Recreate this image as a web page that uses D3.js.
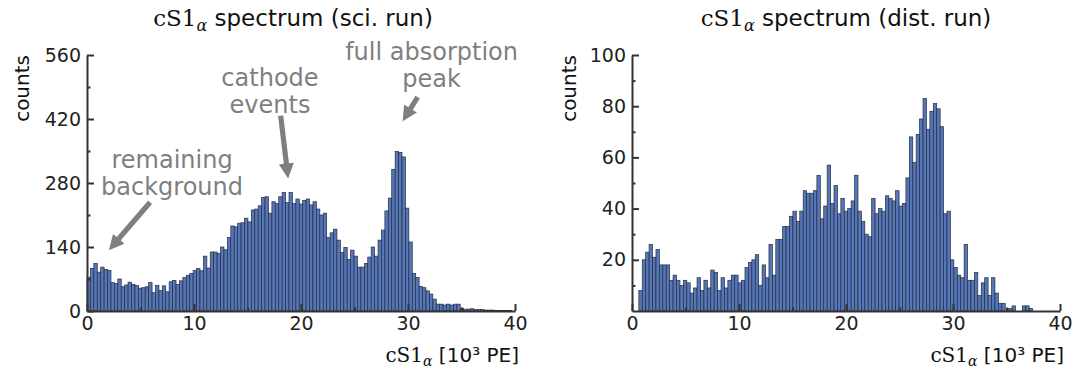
<!DOCTYPE html>
<html><head><meta charset="utf-8">
<script src="https://cdn.jsdelivr.net/npm/d3@7"></script>
<style>
html,body{margin:0;padding:0;background:#fff;}
svg{display:block;}
text{font-family:"DejaVu Sans",sans-serif;}
</style></head>
<body>
<svg id="c" width="1084" height="369"></svg>
<script>
// ---- data ----
const binWidth = 0.32;           // 10^3 PE
const sciStartBin = 0;
const sciCounts = [
 74, 93,104, 85, 96, 91, 89, 62, 60, 70,
 53, 57, 63, 58, 56, 50, 51, 53, 62, 40,
 56, 45, 55, 42, 64, 67, 58, 66, 73, 78,
 82, 89, 93, 88,120, 94,129,129,126,140,
134,161,186,184,192,193,203,195,221,223,
230,248,250,214,239,235,250,259,237,259,
235,245,234,242,245,232,239,223,210,214,
161,171,179,155,128,139,113,133,120, 96,
 96,104,118,140,120,155,177,219,247,310,
349,347,337,225,151, 82, 73, 54, 51, 44,
 37, 26, 15, 15, 13, 15, 13, 15, 15,  6,
  4,  4,  5,  3,  3,  3,  2,  2,  2,  1,
  1,  1,  1,  1,  0];
const distStartBin = 2;
const distCounts = [
  8, 20, 23, 26, 21, 24, 18, 18, 18, 12,
 14, 12, 10, 12, 11,  7,  9, 13,  8, 12,
  9, 16, 15,  8, 13,  9, 12, 14, 14, 11,
 12, 17, 19, 20, 22, 10, 18, 13, 26, 14,
 28, 28, 33, 33, 37, 39, 35, 39, 47, 46,
 46, 47, 53, 36, 41, 57, 42, 49, 38, 44,
 39, 40, 43, 53, 39, 35, 30, 29, 44, 38,
 40, 39, 45, 44, 43, 47, 41, 42, 52, 68,
 58, 69, 75, 83, 71, 78, 81, 79, 72, 38,
 39, 20, 17, 14, 13, 26, 12, 12, 15,  6,
 11, 13,  6, 13,  7,  3,  3,  0,  1,  2,
  0,  0,  2,  2,  1];
const xTicks = [0, 10, 20, 30, 40];
const xMinorTicks = [5, 15, 25, 35];
const sciYTicks = [0, 140, 280, 420, 560];
const sciYMinor = [70, 210, 350, 490];
const distYTicks = [20, 40, 60, 80, 100];
const distYMinor = [10, 30, 50, 70, 90];
const titles = ["spectrum (sci. run)", "spectrum (dist. run)"];
// annotations for sci. run: text lines at (x, y) in data units, arrows tail->tip
const annoText = [
  {lines:["remaining","background"], x:7.95, y:313},
  {lines:["cathode","events"], x:17.1, y:492},
  {lines:["full absorption","peak"], x:32.2, y:549}
];
const annoArrows = [
  {x0:5.9, y0:238, x1:2.05, y1:133},
  {x0:18.1, y0:427, x1:18.8, y1:290},
  {x0:30.9, y0:468, x1:29.5, y1:415}
];

// ---- drawing ----
const svg = d3.select("#c");
const axisCol = "#333333";
const barFill = "#5577b9";
const barEdge = "#262b3c";
const gray = "#7f7f7f";

function panel(cfg){
  const x = d3.scaleLinear().domain([0,40]).range(cfg.xr);
  const y = d3.scaleLinear().domain(cfg.yd).range([311,55]);
  const g = svg.append("g");
  // bars
  g.append("g").selectAll("rect").data(cfg.counts).join("rect")
    .attr("x", (d,i)=>x((cfg.start+i)*binWidth))
    .attr("width", (d,i)=>x((cfg.start+i+1)*binWidth)-x((cfg.start+i)*binWidth))
    .attr("y", d=>y(d))
    .attr("height", d=>y(0)-y(d))
    .attr("fill", barFill)
    .attr("stroke", barEdge)
    .attr("stroke-width", 0.7);
  // axes
  g.append("g").attr("transform",`translate(0,${y(0)})`)
    .call(d3.axisBottom(x).tickValues(xTicks).tickSizeInner(-7).tickSizeOuter(0).tickPadding(6).tickFormat(d3.format("d")));
  g.append("g").attr("transform",`translate(0,${y(0)})`)
    .call(d3.axisBottom(x).tickValues(xMinorTicks).tickSizeInner(-3.5).tickSizeOuter(0).tickFormat(""))
    .select(".domain").remove();
  g.append("g").attr("transform",`translate(${x(0)},0)`)
    .call(d3.axisLeft(y).tickValues(cfg.yt).tickSizeInner(-7).tickSizeOuter(0).tickPadding(6).tickFormat(d3.format("d")));
  g.append("g").attr("transform",`translate(${x(0)},0)`)
    .call(d3.axisLeft(y).tickValues(cfg.ym).tickSizeInner(-3.5).tickSizeOuter(0).tickFormat(""))
    .select(".domain").remove();
  g.selectAll(".domain").attr("stroke", axisCol).attr("stroke-width", 2);
  g.selectAll(".tick line").attr("stroke", axisCol).attr("stroke-width", 2);
  g.selectAll(".tick text").attr("font-family","DejaVu Sans").attr("font-size", 19).attr("fill","#222");
  // ylabel
  g.append("text").attr("transform",`translate(${x(0)-cfg.ylabOff},${y(cfg.yd[1])}) rotate(-90)`)
    .attr("text-anchor","end").attr("font-size",20).attr("fill","#111").text("counts");
  // xlabel
  const xl = g.append("text").attr("x", x(40)+4).attr("y", 362).attr("text-anchor","end")
    .attr("font-size",20).attr("fill","#111");
  xl.append("tspan").attr("font-family","DejaVu Serif").text("cS1");
  xl.append("tspan").attr("font-family","DejaVu Serif").attr("font-style","italic").attr("font-size",14).attr("dy",4).text("α");
  xl.append("tspan").attr("dy",-4).text(" [10³ PE]");
  // title
  const t = g.append("text").attr("x", (cfg.xr[0]+cfg.xr[1])/2 + cfg.titleShift).attr("y", 26).attr("text-anchor","middle")
    .attr("font-size",23).attr("fill","#111");
  t.append("tspan").attr("font-family","DejaVu Serif").text("cS1");
  t.append("tspan").attr("font-family","DejaVu Serif").attr("font-style","italic").attr("font-size",16).attr("dy",5).text("α");
  t.append("tspan").attr("dy",-5).text(" "+cfg.title);
  return {x,y,g};
}

const L = panel({xr:[87,515], yd:[0,560], yt:sciYTicks, ym:sciYMinor, counts:sciCounts, start:sciStartBin, title:titles[0], ylabOff:58, titleShift:-8});
const R = panel({xr:[632,1060], yd:[0,100], yt:distYTicks, ym:distYMinor, counts:distCounts, start:distStartBin, title:titles[1], ylabOff:56, titleShift:0});

// annotations
annoText.forEach(a=>{
  const tx = L.g.append("text").attr("x", L.x(a.x)).attr("y", L.y(a.y)).attr("text-anchor","middle")
    .attr("font-size",24).attr("fill",gray);
  a.lines.forEach((s,i)=>tx.append("tspan").attr("x",L.x(a.x)).attr("dy", i===0?0:27).text(s));
});
annoArrows.forEach(a=>{
  const x0=L.x(a.x0), y0=L.y(a.y0), x1=L.x(a.x1), y1=L.y(a.y1);
  const dx=x1-x0, dy=y1-y0, len=Math.hypot(dx,dy), ux=dx/len, uy=dy/len, px=-uy, py=ux;
  const hl=15, hw=7.5, sw=2.6;
  const bx=x1-ux*hl, by=y1-uy*hl;
  const pts=[[x0+px*sw,y0+py*sw],[bx+px*sw,by+py*sw],[bx+px*hw,by+py*hw],[x1,y1],[bx-px*hw,by-py*hw],[bx-px*sw,by-py*sw],[x0-px*sw,y0-py*sw]];
  L.g.append("path").attr("d","M"+pts.map(p=>p.join(",")).join("L")+"Z").attr("fill",gray);
});
</script>
</body></html>
